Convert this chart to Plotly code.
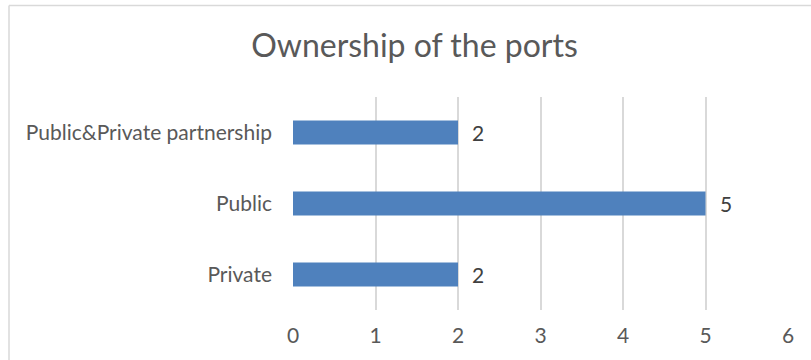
import plotly.graph_objects as go

# Port ownership counts
categories = ["Private", "Public", "Public&Private partnership"]
counts = [2, 5, 2]
x_ticks = [0, 1, 2, 3, 4, 5, 6]

W, H = 811, 360
M_L, M_R, M_T, M_B = 293, 23, 97, 50

FONT = "Lato"
TXT = "#595959"
GRID = "#d9d9d9"
BAR = "#4f81bd"

fig = go.Figure(
    go.Bar(
        x=counts,
        y=categories,
        orientation="h",
        width=0.34,
        marker=dict(color=BAR, line=dict(width=0)),
        hoverinfo="skip",
    )
)

# value labels beside each bar
for c, v in zip(categories, counts):
    fig.add_annotation(
        x=v, y=c, text=str(v), showarrow=False,
        xanchor="left", xshift=12,
        font=dict(family=FONT, size=21, color="#404040"),
    )

plot_w = W - M_L - M_R
plot_h = H - M_T - M_B


def px_x(p):
    return (p - M_L) / plot_w


def px_y(p):
    return 1 - (p - M_T) / plot_h


# chart frame (top and left edges visible)
fig.add_shape(type="line", xref="paper", yref="paper",
              x0=px_x(9), x1=px_x(811), y0=px_y(5.5), y1=px_y(5.5),
              line=dict(color="#d9d9d9", width=1.5))
fig.add_shape(type="line", xref="paper", yref="paper",
              x0=px_x(9), x1=px_x(9), y0=px_y(5.5), y1=px_y(362),
              line=dict(color="#d9d9d9", width=1.5))

fig.update_layout(
    width=W, height=H,
    margin=dict(l=M_L, r=M_R, t=M_T, b=M_B),
    paper_bgcolor="white", plot_bgcolor="white",
    showlegend=False,
    title=dict(
        text="Ownership of the ports",
        x=414.5 / W, xanchor="center",
        y=1 - 46 / H, yanchor="middle",
        xref="container", yref="container",
        font=dict(family=FONT, size=32, color=TXT),
    ),
    xaxis=dict(
        range=[0, 6], tickvals=x_ticks,
        showgrid=True, gridcolor=GRID, gridwidth=1.5,
        zeroline=False, showline=False, ticks="",
        tickfont=dict(family=FONT, size=21, color=TXT),
        ticklabelstandoff=11,
    ),
    yaxis=dict(
        categoryorder="array", categoryarray=categories,
        range=[-0.5, 2.5],
        showgrid=False, zeroline=False, showline=False, ticks="",
        tickfont=dict(family=FONT, size=21, color=TXT),
        ticklabelstandoff=20,
    ),
)

fig.write_html("out.html")
